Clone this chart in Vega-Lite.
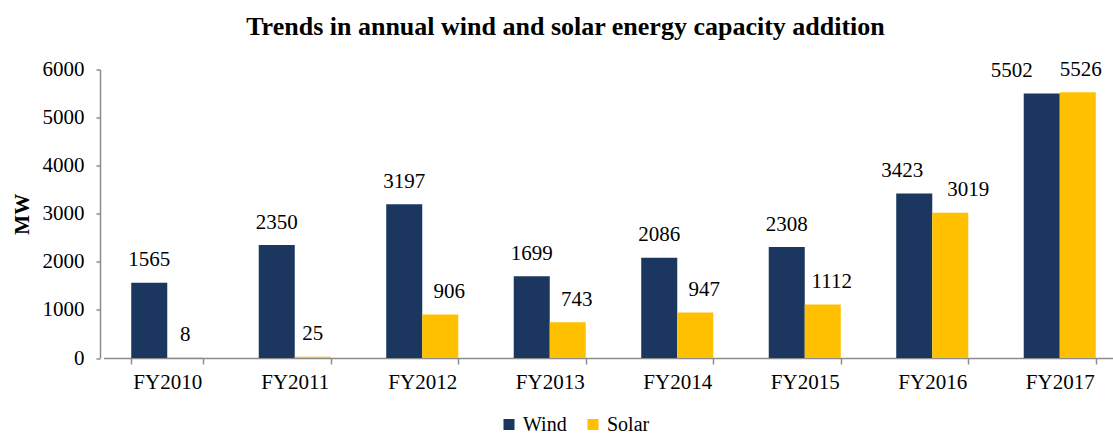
{
  "$schema": "https://vega.github.io/schema/vega-lite/v6.json",
  "width": 1013,
  "height": 288.5,
  "autosize": {"type": "none"},
  "padding": {"left": 100, "top": 69.5, "right": 0, "bottom": 76},
  "background": "white",
  "title": {
    "text": "Trends in annual wind and solar energy capacity addition",
    "font": "Liberation Serif",
    "fontSize": 26,
    "fontWeight": "bold",
    "color": "#000000",
    "anchor": "middle",
    "frame": "group",
    "dx": -41,
    "offset": 19
  },
  "data": {
    "values": [
      {"year": "FY2010", "type": "Wind", "mw": 1565},
      {"year": "FY2010", "type": "Solar", "mw": 8},
      {"year": "FY2011", "type": "Wind", "mw": 2350},
      {"year": "FY2011", "type": "Solar", "mw": 25},
      {"year": "FY2012", "type": "Wind", "mw": 3197},
      {"year": "FY2012", "type": "Solar", "mw": 906},
      {"year": "FY2013", "type": "Wind", "mw": 1699},
      {"year": "FY2013", "type": "Solar", "mw": 743},
      {"year": "FY2014", "type": "Wind", "mw": 2086},
      {"year": "FY2014", "type": "Solar", "mw": 947},
      {"year": "FY2015", "type": "Wind", "mw": 2308},
      {"year": "FY2015", "type": "Solar", "mw": 1112},
      {"year": "FY2016", "type": "Wind", "mw": 3423},
      {"year": "FY2016", "type": "Solar", "mw": 3019},
      {"year": "FY2017", "type": "Wind", "mw": 5502},
      {"year": "FY2017", "type": "Solar", "mw": 5526}
    ]
  },
  "encoding": {
    "x": {
      "field": "year",
      "type": "nominal",
      "scale": {"paddingInner": 0.435, "paddingOuter": 0.2175, "range": [3.5, 1023.5]},
      "axis": {
        "title": null,
        "labelAngle": 0,
        "labelFont": "Liberation Serif",
        "labelFontSize": 21,
        "labelColor": "#000000",
        "labelPadding": 7,
        "domainColor": "#8c8c8c",
        "domainWidth": 1.5,
        "tickColor": "#8c8c8c",
        "tickWidth": 1.5,
        "tickSize": 6,
        "tickBand": "extent"
      }
    },
    "xOffset": {"field": "type", "type": "nominal", "sort": ["Wind", "Solar"]},
    "y": {
      "field": "mw",
      "type": "quantitative",
      "scale": {"domain": [0, 6000]},
      "axis": {
        "title": "MW",
        "titleFont": "Liberation Serif",
        "titleFontSize": 21,
        "titleFontWeight": "bold",
        "titleColor": "#000000",
        "titlePadding": 10,
        "values": [0, 1000, 2000, 3000, 4000, 5000, 6000],
        "format": "d",
        "labelOverlap": false,
        "grid": false,
        "labelFont": "Liberation Serif",
        "labelFontSize": 21,
        "labelColor": "#000000",
        "labelPadding": 12,
        "domainColor": "#8c8c8c",
        "domainWidth": 1.5,
        "tickColor": "#8c8c8c",
        "tickWidth": 1.5,
        "tickSize": 4
      }
    }
  },
  "layer": [
    {
      "mark": {"type": "bar"},
      "encoding": {
        "color": {
          "field": "type",
          "type": "nominal",
          "sort": ["Wind", "Solar"],
          "scale": {"domain": ["Wind", "Solar"], "range": ["#1b375f", "#ffc000"]},
          "legend": {
            "title": null,
            "orient": "none",
            "direction": "horizontal",
            "legendX": 399,
            "legendY": 345,
            "symbolType": "square",
            "symbolSize": 121,
            "symbolStrokeWidth": 0,
            "labelFont": "Liberation Serif",
            "labelFontSize": 20,
            "labelColor": "#000000",
            "columnPadding": 16,
            "labelOffset": 4
          }
        }
      }
    },
    {
      "transform": [{"filter": "!(datum.type == 'Solar' && indexof(['FY2012','FY2013','FY2014','FY2015','FY2016','FY2017'], datum.year) >= 0) && !(datum.type == 'Wind' && indexof(['FY2016','FY2017'], datum.year) >= 0)"}],
      "mark": {"type": "text", "baseline": "alphabetic", "dy": -16.5, "font": "Liberation Serif", "fontSize": 21, "color": "#000000"},
      "encoding": {"text": {"field": "mw", "type": "quantitative", "format": "d"}}
    },
    {
      "transform": [{"filter": "datum.type == 'Solar' && indexof(['FY2012','FY2013','FY2014','FY2015'], datum.year) >= 0"}],
      "mark": {"type": "text", "baseline": "alphabetic", "dy": -16.5, "dx": 9, "font": "Liberation Serif", "fontSize": 21, "color": "#000000"},
      "encoding": {"text": {"field": "mw", "type": "quantitative", "format": "d"}}
    },
    {
      "transform": [{"filter": "datum.type == 'Wind' && datum.year == 'FY2016'"}],
      "mark": {"type": "text", "baseline": "alphabetic", "dy": -16.5, "dx": -12, "font": "Liberation Serif", "fontSize": 21, "color": "#000000"},
      "encoding": {"text": {"field": "mw", "type": "quantitative", "format": "d"}}
    },
    {
      "transform": [{"filter": "datum.type == 'Solar' && datum.year == 'FY2016'"}],
      "mark": {"type": "text", "baseline": "alphabetic", "dy": -16.5, "dx": 18, "font": "Liberation Serif", "fontSize": 21, "color": "#000000"},
      "encoding": {"text": {"field": "mw", "type": "quantitative", "format": "d"}}
    },
    {
      "transform": [{"filter": "datum.type == 'Wind' && datum.year == 'FY2017'"}],
      "mark": {"type": "text", "baseline": "alphabetic", "dy": -16.5, "dx": -30, "font": "Liberation Serif", "fontSize": 21, "color": "#000000"},
      "encoding": {"text": {"field": "mw", "type": "quantitative", "format": "d"}}
    },
    {
      "transform": [{"filter": "datum.type == 'Solar' && datum.year == 'FY2017'"}],
      "mark": {"type": "text", "baseline": "alphabetic", "dy": -16.5, "dx": 3, "font": "Liberation Serif", "fontSize": 21, "color": "#000000"},
      "encoding": {"text": {"field": "mw", "type": "quantitative", "format": "d"}}
    }
  ],
  "config": {
    "font": "Liberation Serif",
    "view": {"stroke": null}
  }
}
